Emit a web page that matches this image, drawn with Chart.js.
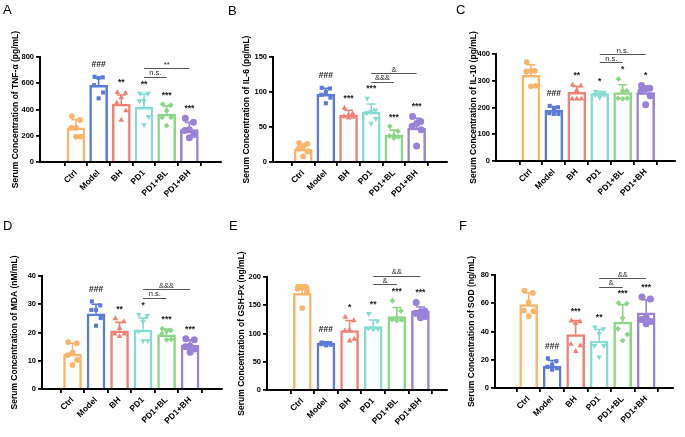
<!DOCTYPE html>
<html>
<head>
<meta charset="utf-8">
<script src="https://cdn.jsdelivr.net/npm/chart.js@4/dist/chart.umd.min.js"></script>
<style>
  body { margin: 0; background: #fff; width: 685px; height: 437px; position: relative; overflow: hidden; }
  canvas { position: absolute; }
</style>
</head>
<body>
<script>
var CATS = ['Ctrl', 'Model', 'BH', 'PD1', 'PD1+BL', 'PD1+BH']

// A: TNF-α (pg/mL)
var TNF_MEAN = [260, 585, 441, 416, 366, 247]
var TNF_SD = [63, 55, 70, 100, 62, 55]
var TNF_PTS = [[350, 320, 260, 260, 194, 194], [650, 645, 640, 585, 530, 485], [530, 525, 492, 449, 391, 320],
  [522, 522, 466, 466, 345, 285], [441, 434, 391, 340, 340, 277], [333, 303, 245, 240, 209, 184]]
var TNF_SIG = ['', '###', '**', '**', '***', '***']
var TNF_CMP = [[3, 4, 'n.s.'], [3, 5, '**']]

// B: IL-6 (pg/mL)
var IL6_MEAN = [18.6, 96.7, 67, 71.4, 38.6, 48.6]
var IL6_SD = [7, 8.5, 7, 11.4, 7, 13.8]
var IL6_PTS = [[27, 26, 22, 19, 15, 8], [106, 105, 100, 96, 92, 84], [77, 69, 67, 65, 64, 63],
  [91, 74, 72, 70, 62, 55], [51, 44, 38, 37, 36, 34], [65, 58, 55, 51, 46, 23]]
var IL6_SIG = ['', '###', '***', '***', '***', '***']
var IL6_CMP = [[3, 4, '&&&'], [3, 5, '&']]

// C: IL-10 (pg/mL)
var IL10_MEAN = [320, 189, 257, 252, 256, 256]
var IL10_SD = [40, 15, 22, 8, 29, 24]
var IL10_PTS = [[370, 337, 337, 335, 281, 279], [206, 201, 197, 179, 176, 176], [285, 281, 264, 232, 232, 232],
  [260, 255, 250, 248, 247, 238], [307, 262, 262, 235, 235, 232], [282, 272, 269, 262, 244, 210]]
var IL10_SIG = ['', '###', '**', '*', '*', '*']
var IL10_CMP = [[3, 4, 'n.s.'], [3, 5, 'n.s.']]

// D: MDA (nM/mL)
var MDA_MEAN = [12.4, 26.6, 20.6, 20.9, 19.2, 15.5]
var MDA_SD = [3.8, 3.4, 3, 4.2, 2, 1.9]
var MDA_PTS = [[16.6, 16.2, 13, 12, 10.3, 8.5], [31, 29.6, 28, 28, 25.1, 22.4], [24.9, 23.9, 21.5, 19.5, 19.5, 18.6],
  [26.3, 26, 23.9, 20.4, 17, 17], [21.3, 20.8, 20.4, 19.6, 17.6, 17.4], [17.8, 17.4, 15.2, 15, 14.2, 13]]
var MDA_SIG = ['', '###', '**', '*', '***', '***']
var MDA_CMP = [[3, 4, 'n.s.'], [3, 5, '&&&']]

// E: GSH-Px (ng/mL)
var GSH_MEAN = [171, 83, 105, 112.4, 130, 140]
var GSH_SD = [15, 2.5, 18, 11.6, 16, 7]
var GSH_PTS = [[183, 181, 181, 179, 175, 145], [84, 83, 82, 81, 80, 79], [129, 123, 106, 105, 90, 87],
  [135, 122, 110, 109, 108, 107], [158, 140, 128, 125, 124, 123], [155, 140, 138, 136, 130, 128]]
var GSH_SIG = ['', '###', '*', '**', '***', '***']
var GSH_CMP = [[3, 4, '&'], [3, 5, '&&']]

// F: SOD (ng/mL)
var SOD_MEAN = [59, 15.5, 37.9, 33.2, 46.6, 53.2]
var SOD_SD = [8.3, 4, 9.9, 8.2, 12.4, 9.4]
var SOD_PTS = [[69, 67.3, 60.7, 54.8, 54.4, 50.8], [21, 19, 16.5, 15, 14, 13], [47.5, 47, 46, 31, 30, 26],
  [43, 41.9, 38.4, 30, 30, 21.9], [60.2, 59.8, 49.6, 42, 37.9, 33.6], [64.5, 63, 50, 48.5, 47, 45.5]]
var SOD_SIG = ['', '###', '***', '**', '***', '***']
var SOD_CMP = [[3, 4, '&'], [3, 5, '&&']]

var COLORS = ['#FBB56A', '#5A7BD6', '#EF8274', '#84DCD2', '#8BD687', '#9A82D6']
var SHAPES = ['circle', 'rect', 'triangle', 'triangle', 'rectRot', 'circle']
var ROTATE = [0, 0, 0, 180, 0, 0]
var RADIUS = [2.9, 2.9, 3.3, 3.3, 2.9, 3.5]
var JIT = [-0.18, 0.18, 0, -0.2, 0.2, 0]

Chart.defaults.font.family = '"Liberation Sans", Arial, sans-serif'
Chart.defaults.color = '#000'

// area = [left, right, top, bottom] of the plot inside each canvas
var panels = [
  {letter: 'A', left: 0, top: 0, w: 226, h: 215, area: [40, 221, 57, 162], xr: [-0.92, 5.73], titleX: 16, lx: 3, ly: 4,
    yMax: 800, yStep: 200, title: 'Serum Concentration of TNF-α (pg/mL)',
    mean: TNF_MEAN, sd: TNF_SD, pts: TNF_PTS, sig: TNF_SIG, cmp: TNF_CMP},
  {letter: 'B', left: 226, top: 0, w: 227, h: 215, area: [47, 221, 57, 162], xr: [-0.69, 5.7], titleX: 20.7, lx: 2, ly: 5,
    yMax: 150, yStep: 50, title: 'Serum Concentration of IL-6 (pg/mL)',
    mean: IL6_MEAN, sd: IL6_SD, pts: IL6_PTS, sig: IL6_SIG, cmp: IL6_CMP},
  {letter: 'C', left: 450, top: 0, w: 235, h: 215, area: [46, 225, 54, 161], xr: [-0.87, 5.63], titleX: 24, lx: 6, ly: 4,
    yMax: 400, yStep: 100, title: 'Serum Concentration of IL-10 (pg/mL)',
    mean: IL10_MEAN, sd: IL10_SD, pts: IL10_PTS, sig: IL10_SIG, cmp: IL10_CMP},
  {letter: 'D', left: 0, top: 215, w: 226, h: 222, area: [42, 222, 61, 174], xr: [-0.66, 5.72], titleX: 15, lx: 3, ly: 5,
    yMax: 40, yStep: 10, title: 'Serum Concentration of MDA (nM/mL)',
    mean: MDA_MEAN, sd: MDA_SD, pts: MDA_PTS, sig: MDA_SIG, cmp: MDA_CMP},
  {letter: 'E', left: 226, top: 215, w: 227, h: 222, area: [41, 221, 62, 175], xr: [-0.86, 5.49], titleX: 15.7, lx: 3, ly: 5,
    yMax: 200, yStep: 50, title: 'Serum Concentration of GSH-Px (ng/mL)',
    mean: GSH_MEAN, sd: GSH_SD, pts: GSH_PTS, sig: GSH_SIG, cmp: GSH_CMP},
  {letter: 'F', left: 450, top: 215, w: 235, h: 222, area: [45, 223, 60, 173], xr: [-0.8, 5.51], titleX: 21.7, lx: 9, ly: 5,
    yMax: 80, yStep: 20, title: 'Serum Concentration of SOD (ng/mL)',
    mean: SOD_MEAN, sd: SOD_SD, pts: SOD_PTS, sig: SOD_SIG, cmp: SOD_CMP},
]

function extras(p) {
  return {
    id: 'extras' + p.letter,
    // error bars right after the hollow bars, before the dots
    afterDatasetDraw: function(chart, args) {
      if (args.index !== 0) return
      var ctx = chart.ctx, x = chart.scales.x, y = chart.scales.y
      ctx.save()
      ctx.lineWidth = 1.6
      p.mean.forEach(function(m, i) {
        var cx = x.getPixelForValue(i)
        var y0 = y.getPixelForValue(m), y1 = y.getPixelForValue(m + p.sd[i])
        ctx.strokeStyle = COLORS[i]
        ctx.beginPath()
        ctx.moveTo(cx, y0)
        ctx.lineTo(cx, y1)
        ctx.moveTo(cx - 4.5, y1)
        ctx.lineTo(cx + 4.5, y1)
        ctx.stroke()
      })
      ctx.restore()
    },
    afterDraw: function(chart) {
      var ctx = chart.ctx, x = chart.scales.x, y = chart.scales.y
      ctx.save()
      var centers = p.mean.map(function(m, i) {
        var hi = Math.max(m + p.sd[i], Math.max.apply(null, p.pts[i]))
        var t = y.getPixelForValue(hi) - RADIUS[i]
        return p.sig[i].charAt(0) === '#' ? t - 9 : t - 6
      })
      ctx.fillStyle = '#222'
      ctx.textAlign = 'center'
      ctx.textBaseline = 'middle'
      ctx.font = 'bold 8.5px "Liberation Sans", Arial'
      p.sig.forEach(function(s, i) {
        if (s) ctx.fillText(s, x.getPixelForValue(i), centers[i])
      })
      // comparison lines
      var prev = null
      ctx.strokeStyle = '#555'
      ctx.lineWidth = 1
      ctx.font = '7.5px "Liberation Sans", Arial'
      p.cmp.forEach(function(c) {
        var low = Math.min.apply(null, centers.slice(c[0], c[1] + 1)) - 7.5
        var ly = prev === null ? low : Math.min(low, prev - 8.5)
        prev = ly
        var xa = x.getPixelForValue(c[0]), xb = x.getPixelForValue(c[1])
        ctx.beginPath()
        ctx.moveTo(xa, Math.round(ly) + 0.5)
        ctx.lineTo(xb, Math.round(ly) + 0.5)
        ctx.stroke()
        ctx.fillText(c[2], (xa + xb) / 2, ly - 3.5)
      })
      ctx.fillStyle = '#000'
      ctx.textAlign = 'left'
      ctx.textBaseline = 'top'
      ctx.font = '13px "Liberation Sans", Arial'
      ctx.fillText(p.letter, p.lx, p.ly)
      ctx.restore()
    },
  }
}

function makeChart(p) {
  var cv = document.createElement('canvas')
  cv.width = p.w
  cv.height = p.h
  cv.style.left = p.left + 'px'
  cv.style.top = p.top + 'px'
  document.body.appendChild(cv)

  var datasets = [{
    type: 'bar',
    data: p.mean.map(function(v, i) { return {x: i, y: v} }),
    backgroundColor: '#fff',
    borderColor: COLORS,
    borderWidth: 2.5,
    barThickness: 18,
    order: 1,
  }]
  p.pts.forEach(function(vals, i) {
    datasets.push({
      type: 'scatter',
      data: vals.map(function(v, k) { return {x: i + JIT[k], y: v} }),
      pointStyle: SHAPES[i],
      rotation: ROTATE[i],
      pointRadius: RADIUS[i],
      backgroundColor: COLORS[i],
      borderColor: COLORS[i],
      borderWidth: 0,
      order: 0,
    })
  })

  new Chart(cv.getContext('2d'), {
    type: 'bar',
    data: {datasets: datasets},
    options: {
      responsive: false,
      animation: false,
      layout: {padding: {left: 0, top: p.area[2], right: p.w - p.area[1], bottom: 0}},
      plugins: {legend: {display: false}, tooltip: {enabled: false}},
      scales: {
        x: {
          type: 'linear',
          min: p.xr[0],
          max: p.xr[1],
          afterBuildTicks: function(s) { s.ticks = CATS.map(function(c, i) { return {value: i} }) },
          afterFit: function(s) { s.height = p.h - p.area[3] },
          grid: {drawOnChartArea: false, color: '#000', lineWidth: 1.8, tickLength: 4},
          border: {color: '#000', width: 2},
          ticks: {
            autoSkip: false, minRotation: 45, maxRotation: 45, padding: 2,
            font: {size: 8.5, weight: 'bold'},
            callback: function(v) { return CATS[v] },
          },
        },
        y: {
          min: 0,
          max: p.yMax,
          afterFit: function(s) { s.width = p.area[0] },
          grid: {drawOnChartArea: false, color: '#000', lineWidth: 1.8, tickLength: 4},
          border: {color: '#000', width: 2},
          ticks: {stepSize: p.yStep, padding: 2, font: {size: 7.5, weight: 'bold'}},
          title: {
            display: true, text: p.title,
            font: {size: 8.5, weight: 'bold'},
            padding: {top: p.titleX - 5.1, bottom: 0},
          },
        },
      },
    },
    plugins: [extras(p)],
  })
}

panels.forEach(makeChart)
</script>
</body>
</html>
